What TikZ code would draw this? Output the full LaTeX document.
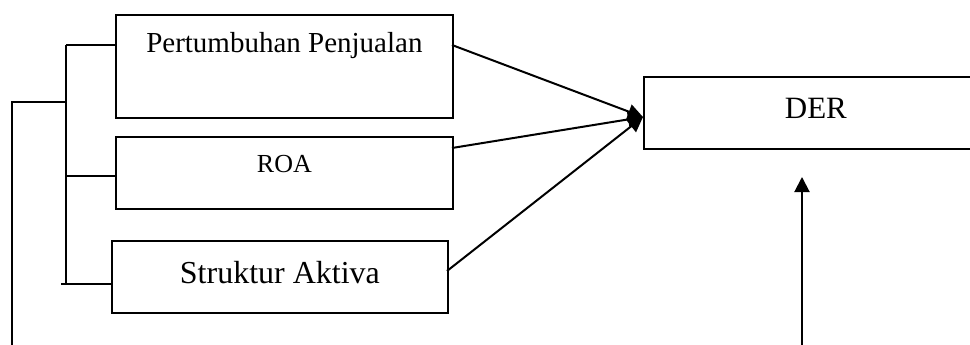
\documentclass[tikz,border=0pt]{standalone}
\usepackage{fontspec}
\setmainfont{Liberation Serif}
\usetikzlibrary{arrows.meta}
\begin{document}
\begin{tikzpicture}[x=1pt,y=-1pt,
  ln/.style={line width=2pt},
  box/.style={draw,line width=1.8pt,rectangle,inner sep=0pt,anchor=north west,align=center},
  arr/.style={ln,-{Triangle[length=15pt,width=15pt]}}]
\useasboundingbox (0,0) rectangle (970,345);
\node[box,minimum width=337pt,text height=38pt,text depth=65pt,font=\fontsize{29}{32}\selectfont] (b1) at (115,14) {Pertumbuhan Penjualan};
\node[box,minimum width=337pt,text height=36pt,text depth=36pt,font=\fontsize{26}{30}\selectfont] (b2) at (115,136) {ROA};
\node[box,minimum width=336pt,text height=43pt,text depth=29pt,font=\fontsize{32}{36}\selectfont] (b3) at (111,240) {Struktur Aktiva};
\node[box,minimum width=340pt,text height=42pt,text depth=30pt,font=\fontsize{31}{36}\selectfont] (der) at (643,76) {\hspace*{4pt}DER};
% bracket
\coordinate (j1) at (66,45);
\coordinate (j2) at (66,176);
\coordinate (j3) at (66,284);
\coordinate (j3a) at (61,284);
\coordinate (jm) at (66,102);
\coordinate (l1) at (12,102);
\coordinate (l2) at (12,345);
\draw[ln] (j1) -- (j3);
\draw[ln] (j1) -- (j1 -| b1.west);
\draw[ln] (j2) -- (j2 -| b2.west);
\draw[ln] (j3a) -- (j3a -| b3.west);
\draw[ln] (l2) -- (l1) -- (jm);
% arrows to DER
\coordinate (s1) at (452,45);
\coordinate (s2) at (452,148);
\coordinate (s3) at (447,271);
\coordinate (t) at (643,117);
\draw[arr] (s1) -- (t);
\draw[arr] (s2) -- (t);
\draw[arr] (s3) -- (t);
% up arrow
\coordinate (u1) at (802,345);
\coordinate (u2) at (802,177);
\draw[arr] (u1) -- (u2);
\end{tikzpicture}
\end{document}
